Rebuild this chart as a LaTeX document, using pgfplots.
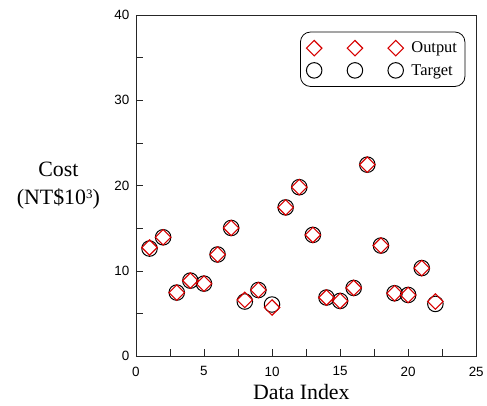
\documentclass[border=0pt]{standalone}
\usepackage{pgfplots}
\pgfplotsset{compat=1.18}
\usepackage{fontspec}
\setmainfont{Liberation Serif}
\newfontfamily\arial{Liberation Sans}
\definecolor{outred}{RGB}{215,0,0}
\begin{document}
\begin{tikzpicture}
\begin{axis}[
  name=ax,
  scale only axis,
  width=342.3pt, height=343.3pt,
  xmin=0, xmax=25, ymin=0, ymax=40,
  xtick={0,5,...,25}, ytick={0,10,...,40},
  minor x tick num=1, minor y tick num=1,
  tick align=inside,
  xtick pos=bottom, ytick pos=left,
  major tick length=7pt, minor tick length=7pt,
  axis line style={black!85, line width=0.8pt},
  every tick/.style={black!85, line width=0.8pt},
  /pgf/number format/assume math mode=true,
  ticklabel style={font=\arial\fontsize{13.5}{15}\selectfont},
  xticklabel style={yshift=-7pt},
  yticklabel style={xshift=-3pt},
  xlabel={Data Index},
  xlabel style={font=\fontsize{22}{26}\selectfont, at={(rel axis cs:0.486,-0.1274)}, anchor=base},
  ylabel={Cost\\(NT\$10{\fontsize{13}{13}\selectfont\raisebox{0.45em}{3}})},
  ylabel style={font=\fontsize{22}{28}\selectfont, rotate=-90, align=center, at={(rel axis cs:-0.228,0.5)}, anchor=center},
  legend style={draw=black, line width=0.8pt, rounded corners=10pt,
    at={(rel axis cs:0.968,0.951)}, anchor=north east,
    font=\fontsize{16.5}{18}\selectfont,
    inner xsep=6pt, inner ysep=8pt, row sep=6pt,
    cells={anchor=west},
    /tikz/every odd column/.append style={column sep=6pt}},
  legend image code/.code={\draw[#1] plot coordinates {(0pt,0pt) (41pt,0pt) (82pt,0pt)};},
  reverse legend,
]
\addplot[only marks, mark=o, mark size=7.8pt, mark options={black, line width=1pt}] coordinates {
(1,12.62) (2,13.94) (3,7.46) (4,8.86) (5,8.51) (6,11.92) (7,15.03) (8,6.41) (9,7.76) (10,6.06)
(11,17.44) (12,19.81) (13,14.22) (14,6.88) (15,6.48) (16,8.00) (17,22.45) (18,12.97) (19,7.38) (20,7.18)
(21,10.33) (22,6.13)};
\addlegendentry{Target}
\addplot[only marks, mark=square, mark size=5.5pt, mark options={outred, line width=1.1pt, rotate=45}] coordinates {
(1,12.74) (2,13.94) (3,7.46) (4,8.86) (5,8.51) (6,11.92) (7,15.03) (8,6.60) (9,7.76) (10,5.71)
(11,17.44) (12,19.81) (13,14.22) (14,6.88) (15,6.48) (16,8.00) (17,22.45) (18,12.97) (19,7.38) (20,7.18)
(21,10.33) (22,6.41)};
\addlegendentry{Output}
\end{axis}
\path (ax.south west) ++(-136.7pt,-49.7pt) rectangle ++(487pt,408pt);
\end{tikzpicture}
\end{document}
